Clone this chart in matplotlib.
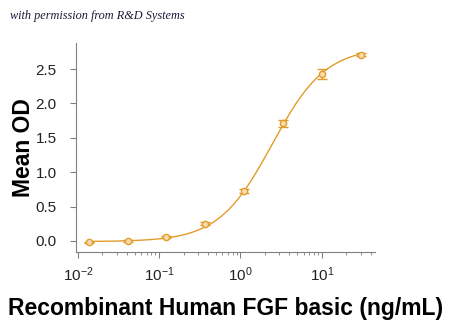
import numpy as np
import matplotlib
matplotlib.use("Agg")
import matplotlib.pyplot as plt
from matplotlib.ticker import LogLocator, NullFormatter

# concentrations (ng/mL), 3-fold dilutions
conc = [0.0137, 0.041, 0.123, 0.37, 1.11, 3.33, 10.0, 30.0]
mean_od = [-0.02, 0.00, 0.06, 0.25, 0.73, 1.71, 2.43, 2.71]
od_err = [0.01, 0.01, 0.01, 0.02, 0.03, 0.05, 0.07, 0.02]

# 4PL fit parameters: bottom, top, EC50, hill
fit_bottom = -0.01
fit_top = 2.82
fit_ec50 = 2.45
fit_hill = 1.32

orange = '#E39B2C'

plt.rcParams['mathtext.fontset'] = 'custom'
plt.rcParams['mathtext.rm'] = 'Liberation Sans'
plt.rcParams['mathtext.it'] = 'Liberation Sans:italic'

fig = plt.figure(figsize=(4.5, 3.23), dpi=100)
ax = fig.add_axes([0.169, 0.22, 0.664, 0.647])

xs = np.logspace(np.log10(conc[0]), np.log10(conc[-1]), 200)
ys = fit_bottom + (fit_top - fit_bottom) / (1 + (fit_ec50 / xs) ** fit_hill)
ax.plot(xs, ys, color=orange, linewidth=1)
ax.errorbar(conc, mean_od, yerr=od_err, fmt='o', color=orange, markersize=4.5,
            markerfacecolor='#F8DDB0', markeredgecolor=orange, markeredgewidth=1,
            elinewidth=1, capsize=3.5, capthick=1)

ax.set_xscale('log')
ax.set_xlim(0.0095, 45)
ax.set_ylim(-0.16, 2.88)
ax.set_yticks([0.0, 0.5, 1.0, 1.5, 2.0, 2.5])
ax.set_yticklabels(['0.0', '0.5', '1.0', '1.5', '2.0', '2.5'])
ax.set_xticks([0.01, 0.1, 1, 10])
ax.set_xticklabels(['$\\mathregular{10^{-2}}$', '$\\mathregular{10^{-1}}$',
                    '$\\mathregular{10^{0}}$', '$\\mathregular{10^{1}}$'])
ax.xaxis.set_minor_locator(LogLocator(base=10, subs=np.arange(2, 10)))
ax.xaxis.set_minor_formatter(NullFormatter())

for s in ['top', 'right']:
    ax.spines[s].set_visible(False)
for s in ['left', 'bottom']:
    ax.spines[s].set_color('#808080')
    ax.spines[s].set_linewidth(0.8)
ax.tick_params(axis='both', which='major', length=4, color='#808080', labelsize=11, pad=6)
ax.tick_params(axis='y', pad=10)
ax.tick_params(axis='x', which='minor', length=2.5, color='#808080')
for lab in ax.get_xticklabels() + ax.get_yticklabels():
    lab.set_family('Liberation Sans')
    lab.set_color('#222222')

ax.set_xlabel('Recombinant Human FGF basic (ng/mL)', fontsize=16.5, fontweight='bold',
              family='Liberation Sans', labelpad=9)
ax.set_ylabel('Mean OD', fontsize=16.5, fontweight='bold', family='Liberation Sans')
ax.yaxis.set_label_coords(-0.137, 0.5)

fig.text(0.022, 0.94, 'with permission from R&D Systems', fontsize=8.8, style='italic',
         family='Liberation Serif', color='#1a1a3a')

fig.savefig('out.png', dpi=100)
